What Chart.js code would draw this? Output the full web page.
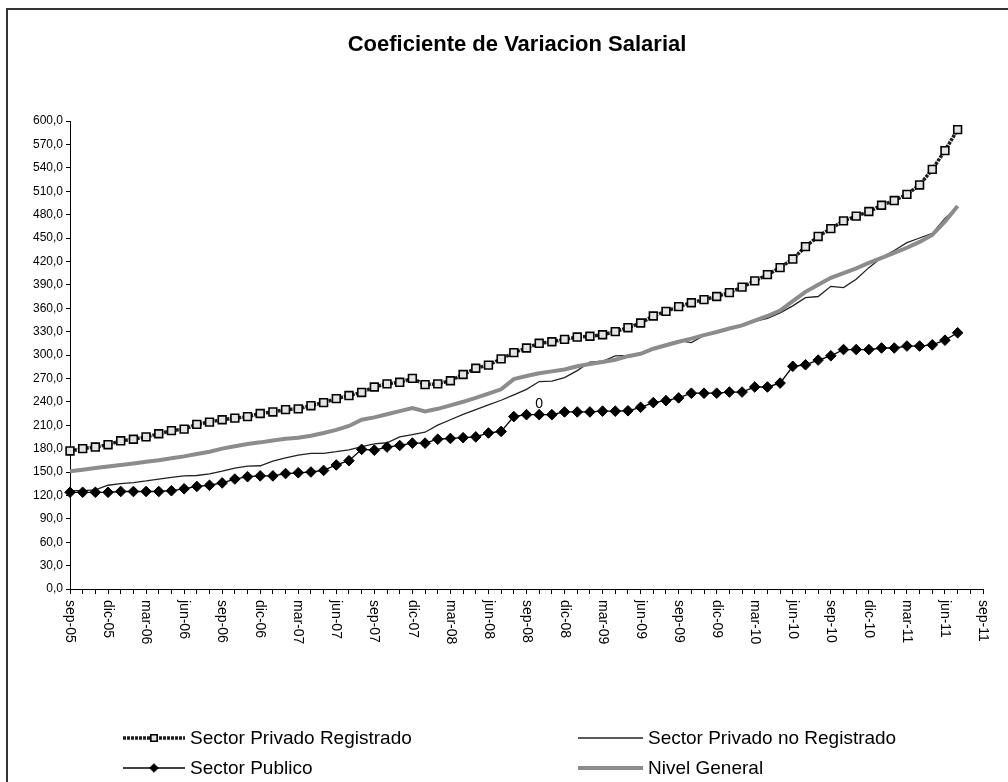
<!DOCTYPE html>
<html lang="es">
<head>
<meta charset="utf-8">
<title>Coeficiente de Variacion Salarial</title>
<script src="https://cdn.jsdelivr.net/npm/chart.js@4.4.1/dist/chart.umd.min.js"></script>
<style>
  html, body { margin: 0; padding: 0; background: #fff; }
  #grafico { display: block; }
</style>
</head>
<body>
<canvas id="grafico" width="1008" height="782"></canvas>
<script>
// Meses del eje X (sep-05 a sep-11); solo se rotula uno de cada tres
const meses = [
  'sep-05', 'oct-05', 'nov-05', 'dic-05',
  'ene-06', 'feb-06', 'mar-06', 'abr-06', 'may-06', 'jun-06', 'jul-06', 'ago-06', 'sep-06', 'oct-06', 'nov-06', 'dic-06',
  'ene-07', 'feb-07', 'mar-07', 'abr-07', 'may-07', 'jun-07', 'jul-07', 'ago-07', 'sep-07', 'oct-07', 'nov-07', 'dic-07',
  'ene-08', 'feb-08', 'mar-08', 'abr-08', 'may-08', 'jun-08', 'jul-08', 'ago-08', 'sep-08', 'oct-08', 'nov-08', 'dic-08',
  'ene-09', 'feb-09', 'mar-09', 'abr-09', 'may-09', 'jun-09', 'jul-09', 'ago-09', 'sep-09', 'oct-09', 'nov-09', 'dic-09',
  'ene-10', 'feb-10', 'mar-10', 'abr-10', 'may-10', 'jun-10', 'jul-10', 'ago-10', 'sep-10', 'oct-10', 'nov-10', 'dic-10',
  'ene-11', 'feb-11', 'mar-11', 'abr-11', 'may-11', 'jun-11', 'jul-11', 'ago-11', 'sep-11'
];

const sectorPrivadoRegistrado = [
  177, 180, 182, 185, 190, 192, 195, 199, 203, 205,
  211, 214, 217, 219, 221, 225, 227, 230, 231, 235,
  239, 244, 248, 252, 259, 263, 265, 270, 262, 263,
  267, 275, 283, 287, 295, 303, 309, 315, 317, 320,
  323, 324, 326, 330, 335, 341, 350, 356, 362, 367,
  371, 375, 380, 387, 395, 403, 412, 423, 439, 452,
  462, 472, 478, 484, 492, 498, 506, 518, 538, 562,
  589
];

const sectorPrivadoNoRegistrado = [
  126, 126, 127, 133, 135, 136.5, 138.5, 141, 143, 145,
  145.5, 147.5, 151, 155, 157.5, 158, 164, 168, 171.5, 174,
  174, 176, 178.5, 182.5, 186, 187.5, 195, 198, 201, 210,
  217, 224, 230, 236, 242, 249, 256, 266, 266.5, 271,
  280, 291, 292, 299, 299.5, 302, 308, 314, 318.5, 316,
  325, 330, 335, 338.5, 343, 347, 354, 363, 373.5, 375,
  388, 386.5, 397, 412, 425, 434, 444, 450, 456, 475,
  490
];

const sectorPublico = [
  124, 124, 124, 124, 125, 125, 125, 125, 126, 128.5,
  131.5, 133, 136, 141, 144, 145, 145, 148, 149, 150,
  152, 159, 164.5, 179, 178, 182, 184, 187, 187, 192,
  193, 194, 195, 200, 202, 221, 223.5, 223.5, 223.5, 227,
  227, 227, 228, 228, 228.5, 233, 239, 241.5, 245, 251,
  251, 251, 252.5, 252.5, 259, 259, 264, 285.5, 287.5, 293.5,
  299, 307, 307, 307, 309, 309, 311.5, 311.5, 313, 319,
  328.5
];

const nivelGeneral = [
  151, 153, 155, 157, 159, 161, 163, 165, 167.5, 170,
  173, 176, 180, 183, 186, 188, 190.5, 192.5, 194, 196.5,
  200, 204, 209, 217, 220, 224, 228, 232, 227.5, 231,
  235.5, 240, 245, 250.5, 256, 269, 273, 276.5, 279, 281.5,
  285.5, 288.5, 291, 294, 298.5, 301.5, 308, 312.5, 317, 321,
  325.5, 329.5, 334, 338, 344, 350, 357, 369, 381, 390,
  399, 405, 411, 418, 424.5, 431, 437.5, 445, 454, 471,
  491
];

// Eje Y: 0,0 a 600,0 cada 30
const minEjeY = 0;
const maxEjeY = 600;
const pasoEjeY = 30;

const titulo = 'Coeficiente de Variacion Salarial';
// Rótulo suelto que aparece sobre un punto de Sector Publico (oct-08)
const rotuloPunto = { serie: 'Sector Publico', mes: 'oct-08', texto: '0' };

const fuente = '"Liberation Sans", Arial, Helvetica, sans-serif';

// Estilos de cada serie (también se usan para dibujar la leyenda)
const series = [
  {
    label: 'Sector Privado Registrado',
    data: sectorPrivadoRegistrado,
    borderColor: '#1e1e1e',
    borderWidth: 3.5,
    borderDash: [3, 1],
    pointStyle: 'rect',
    pointRadius: 5.5,
    pointBackgroundColor: '#e4e4e4',
    pointBorderColor: '#000',
    pointBorderWidth: 1.6,
    order: 3
  },
  {
    label: 'Sector Privado no Registrado',
    data: sectorPrivadoNoRegistrado,
    borderColor: '#222',
    borderWidth: 1.3,
    pointRadius: 0,
    order: 2
  },
  {
    label: 'Sector Publico',
    data: sectorPublico,
    borderColor: '#000',
    borderWidth: 1.3,
    pointStyle: 'rectRot',
    pointRadius: 5.3,
    pointBackgroundColor: '#000',
    pointBorderColor: '#000',
    pointBorderWidth: 1,
    order: 1
  },
  {
    label: 'Nivel General',
    data: nivelGeneral,
    borderColor: '#8c8c8c',
    borderWidth: 4,
    pointRadius: 0,
    order: 0
  }
];

// Dibuja marco, título, rótulos del eje X (girados hacia abajo) y la leyenda
const decorado = {
  id: 'decorado',
  beforeDraw(chart) {
    const { ctx } = chart;
    ctx.save();
    ctx.fillStyle = '#fff';
    ctx.fillRect(0, 0, chart.width, chart.height);
    ctx.strokeStyle = '#333';
    ctx.lineWidth = 2;
    ctx.beginPath();
    ctx.moveTo(7, chart.height + 5);
    ctx.lineTo(7, 9);
    ctx.lineTo(chart.width + 5, 9);
    ctx.stroke();
    ctx.restore();
  },
  afterDraw(chart) {
    const { ctx } = chart;
    const xs = chart.scales.x;
    ctx.save();

    // Título
    ctx.fillStyle = '#000';
    ctx.font = 'bold 22px ' + fuente;
    ctx.textAlign = 'center';
    ctx.textBaseline = 'middle';
    ctx.fillText(titulo, 517, 45);

    // Rótulos del eje X, uno cada tres meses, leídos de arriba hacia abajo
    ctx.font = '14px ' + fuente;
    ctx.textAlign = 'left';
    meses.forEach((m, i) => {
      if (i % 3 !== 0) return;
      const x = xs.getPixelForValue(i);
      ctx.save();
      ctx.translate(x, xs.top + 11);
      ctx.rotate(Math.PI / 2);
      ctx.fillText(m, 0, 0);
      ctx.restore();
    });

    // Rótulo suelto sobre el punto
    const idxSerie = series.findIndex(s => s.label === rotuloPunto.serie);
    const punto = chart.getDatasetMeta(idxSerie).data[meses.indexOf(rotuloPunto.mes)];
    if (punto) {
      ctx.font = '14px ' + fuente;
      ctx.textAlign = 'center';
      ctx.fillText(rotuloPunto.texto, punto.x, punto.y - 11);
    }

    // Leyenda en dos columnas
    const columnas = [123, 578];
    const filas = [738, 768];
    ctx.font = '19px ' + fuente;
    ctx.textAlign = 'left';
    series.forEach((s, i) => {
      const x0 = columnas[i % 2];
      const y = filas[Math.floor(i / 2)];
      const largo = i % 2 === 0 ? 62 : 65;
      ctx.save();
      ctx.strokeStyle = s.borderColor;
      ctx.lineWidth = s.borderWidth;
      ctx.setLineDash(s.borderDash || []);
      ctx.beginPath();
      ctx.moveTo(x0, y);
      ctx.lineTo(x0 + largo, y);
      ctx.stroke();
      ctx.setLineDash([]);
      if (s.pointRadius) {
        ctx.fillStyle = s.pointBackgroundColor;
        ctx.strokeStyle = s.pointBorderColor;
        ctx.lineWidth = s.pointBorderWidth;
        Chart.helpers.drawPoint(ctx, {
          pointStyle: s.pointStyle,
          radius: s.pointRadius - 1,
          rotation: 0,
          borderWidth: s.pointBorderWidth
        }, x0 + largo / 2, y);
      }
      ctx.restore();
      ctx.fillStyle = '#000';
      ctx.textBaseline = 'middle';
      ctx.fillText(s.label, x0 + largo + 5, y + 1);
    });

    ctx.restore();
  }
};

const ctx = document.getElementById('grafico').getContext('2d');

new Chart(ctx, {
  type: 'line',
  data: {
    labels: meses,
    datasets: series.map(s => Object.assign({ fill: false, tension: 0, spanGaps: false }, s))
  },
  options: {
    responsive: false,
    animation: false,
    devicePixelRatio: 1,
    layout: {
      padding: { top: 121, left: 8, right: 25, bottom: 133 }
    },
    plugins: {
      legend: { display: false },
      title: { display: false },
      tooltip: { enabled: false }
    },
    scales: {
      x: {
        offset: false,
        grid: {
          drawOnChartArea: false,
          drawTicks: true,
          tickLength: 5,
          color: '#000'
        },
        border: { display: true, color: '#000', width: 1 },
        ticks: { display: false, autoSkip: false },
        afterFit(scale) { scale.height = 60; }
      },
      y: {
        min: minEjeY,
        max: maxEjeY,
        grid: {
          drawOnChartArea: false,
          drawTicks: true,
          tickLength: 4,
          color: '#000'
        },
        border: { display: true, color: '#000', width: 1 },
        ticks: {
          stepSize: pasoEjeY,
          autoSkip: false,
          maxTicksLimit: 100,
          padding: 3,
          color: '#000',
          font: { family: fuente, size: 12 },
          callback: v => v.toFixed(1).replace('.', ',')
        },
        afterFit(scale) { scale.width = 62; }
      }
    }
  },
  plugins: [decorado]
});
</script>
</body>
</html>
